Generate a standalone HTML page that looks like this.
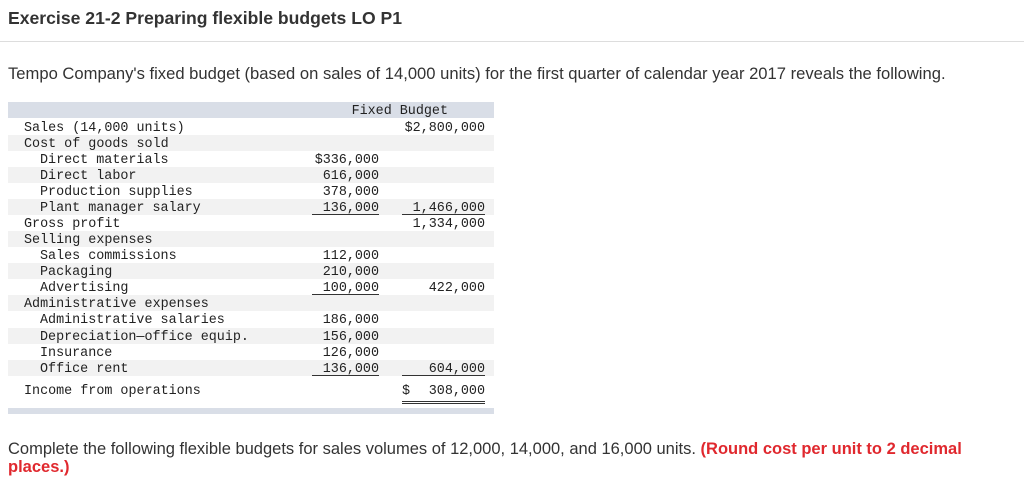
<!DOCTYPE html>
<html><head><meta charset="utf-8"><style>
body{margin:0;width:1024px;height:502px;background:#fff;position:relative;font-family:"Liberation Sans",sans-serif;color:#222;overflow:hidden}
.abs{position:absolute}
#title{left:8px;top:8px;font-size:17.6px;font-weight:bold;color:#333}
#sep{left:0;top:41px;width:1024px;height:1px;background:#ddd}
#intro{left:8px;top:64px;font-size:16.6px;color:#333;white-space:nowrap}
#tbl{left:8px;top:102px;width:486px;height:312px;font-family:"Liberation Mono",monospace;font-size:13.4px;color:#222}
.row{position:absolute;left:0;width:486px;height:16px;line-height:19px}
.g{background:#f2f2f2}
.lab{position:absolute;white-space:pre}
.c1{position:absolute;right:115px;text-align:right}
.c2{position:absolute;right:9px;text-align:right}
.ul1{position:absolute;left:304px;width:67px;bottom:0;height:1px;background:#333}
.ul2{position:absolute;left:394px;width:83px;bottom:0;height:1px;background:#333}
#bottom{left:8px;top:440px;font-size:16.5px;color:#333;line-height:18px;width:1010px}
.red{color:#e0282e;font-weight:bold}
</style></head><body>
<div class="abs" id="title">Exercise 21-2 Preparing flexible budgets LO P1</div>
<div class="abs" id="sep"></div>
<div class="abs" id="intro">Tempo Company's fixed budget (based on sales of 14,000 units) for the first quarter of calendar year 2017 reveals the following.</div>
<div class="abs" id="tbl">
<div class="row" style="top:0;background:#d9dee7"><span class="c2" style="right:46px">Fixed Budget</span></div>
<div class="row" style="top:17px"><span class="lab" style="left:16px">Sales (14,000 units)</span><span class="c2">$2,800,000</span></div>
<div class="row g" style="top:33px"><span class="lab" style="left:16px">Cost of goods sold</span></div>
<div class="row" style="top:49px"><span class="lab" style="left:32px">Direct materials</span><span class="c1">$336,000</span></div>
<div class="row g" style="top:65px"><span class="lab" style="left:32px">Direct labor</span><span class="c1">616,000</span></div>
<div class="row" style="top:81px"><span class="lab" style="left:32px">Production supplies</span><span class="c1">378,000</span></div>
<div class="row g" style="top:97px"><span class="lab" style="left:32px">Plant manager salary</span><span class="c1">136,000</span><span class="c2">1,466,000</span><div class="ul1"></div><div class="ul2"></div></div>
<div class="row" style="top:113px"><span class="lab" style="left:16px">Gross profit</span><span class="c2">1,334,000</span></div>
<div class="row g" style="top:129px"><span class="lab" style="left:16px">Selling expenses</span></div>
<div class="row" style="top:145px"><span class="lab" style="left:32px">Sales commissions</span><span class="c1">112,000</span></div>
<div class="row g" style="top:161px"><span class="lab" style="left:32px">Packaging</span><span class="c1">210,000</span></div>
<div class="row" style="top:177px"><span class="lab" style="left:32px">Advertising</span><span class="c1">100,000</span><span class="c2">422,000</span><div class="ul1"></div></div>
<div class="row g" style="top:193px"><span class="lab" style="left:16px">Administrative expenses</span></div>
<div class="row" style="top:209px"><span class="lab" style="left:32px">Administrative salaries</span><span class="c1">186,000</span></div>
<div class="row g" style="top:226px"><span class="lab" style="left:32px">Depreciation—office equip.</span><span class="c1">156,000</span></div>
<div class="row" style="top:242px"><span class="lab" style="left:32px">Insurance</span><span class="c1">126,000</span></div>
<div class="row g" style="top:258px"><span class="lab" style="left:32px">Office rent</span><span class="c1">136,000</span><span class="c2">604,000</span><div class="ul1"></div><div class="ul2"></div></div>
<div class="row" style="top:280px"><span class="lab" style="left:16px">Income from operations</span><span class="lab" style="left:394px">$</span><span class="c2">308,000</span><div class="ul2" style="bottom:-4px;height:1px"></div><div class="ul2" style="bottom:-6px;height:1px"></div></div>
<div class="row" style="top:306px;height:6px;background:#d9dee7"></div>
</div>
<div class="abs" id="bottom">Complete the following flexible budgets for sales volumes of 12,000, 14,000, and 16,000 units. <span class="red">(Round cost per unit to 2 decimal<br>places.)</span></div>
</body></html>
